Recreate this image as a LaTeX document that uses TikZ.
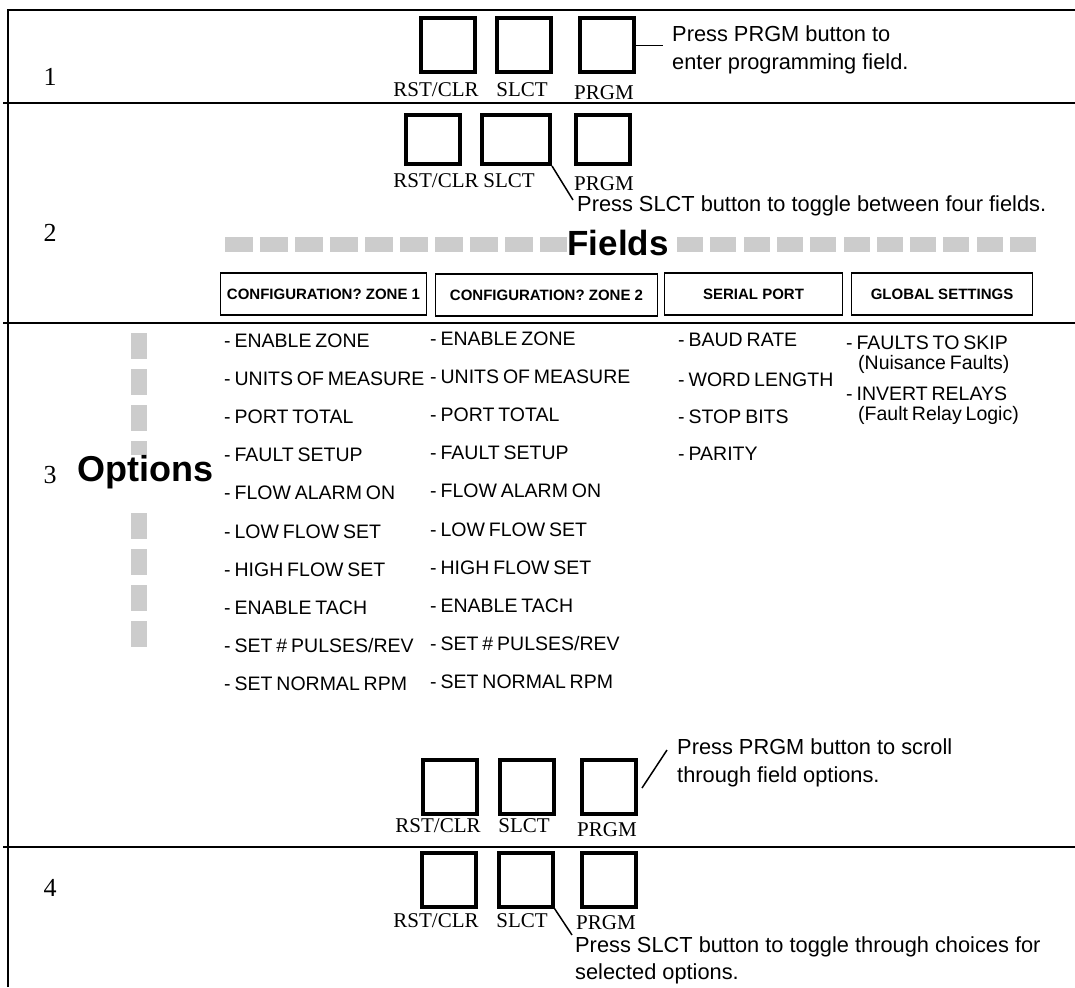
\documentclass[tikz,border=0pt]{standalone}
\usepackage{fontspec}
\setmainfont{Liberation Serif}
\setsansfont{Liberation Sans}
\newfontfamily\optfont{Liberation Sans}[WordSpace=0.72]
\begin{document}
\begin{tikzpicture}[x=1pt,y=-1pt,
  frame/.style={line width=2.2pt},
  btn/.style={draw, line width=4pt, minimum width=54pt, minimum height=54pt, inner sep=0pt},
  blabel/.style={font=\fontsize{21}{21}\selectfont, inner sep=0pt, anchor=base},
  note/.style={font=\sffamily\fontsize{21.8}{21.8}\selectfont, inner sep=0pt, anchor=base west},
  opt/.style={font=\optfont\fontsize{19.5}{19.5}\selectfont, inner sep=0pt, anchor=base west},
  field/.style={draw, line width=1.2pt, minimum height=42pt, inner sep=0pt, font=\sffamily\bfseries\fontsize{15}{15}\selectfont},
  secnum/.style={font=\fontsize{26}{26}\selectfont, inner sep=0pt},
  big/.style={font=\sffamily\bfseries\fontsize{36}{36}\selectfont, inner sep=0pt, fill=white},
  graydash/.style={fill=black!20, draw=none},
  callout/.style={line width=1.5pt}
]
\useasboundingbox (0,0) rectangle (1075,987);
% frame
\coordinate (fTL) at (8,10);
\coordinate (fTR) at (1075,10);
\coordinate (fBL) at (8,987);
\draw[frame] (fBL) -- (fTL) -- (fTR);
\coordinate (d1L) at (3,103); \coordinate (d1R) at (1075,103);
\coordinate (d2L) at (3,323); \coordinate (d2R) at (1075,323);
\coordinate (d3L) at (3,847); \coordinate (d3R) at (1075,847);
\draw[frame] (d1L) -- (d1R);
\draw[frame] (d2L) -- (d2R);
\draw[frame] (d3L) -- (d3R);
% section numbers
\node[secnum] (n1) at (50,77) {1};
\node[secnum] (n2) at (50,233) {2};
\node[secnum] (n3) at (50,475) {3};
\node[secnum] (n4) at (50,888) {4};
% section 1 buttons
\node[btn] (a1) at (447.5,45.5) {};
\node[btn] (a2) at (524,45.5) {};
\node[btn] (a3) at (606.5,45.5) {};
\node[blabel] (la1) at (436,97) {RST/CLR};
\node[blabel] (la2) at (522,97) {SLCT};
\node[blabel] (la3) at (604,100) {PRGM};
\coordinate (ca) at (663,45.5);
\draw[callout] (a3.east) -- (ca);
\node[note] (ta1) at (672,42) {Press PRGM button to};
\node[note] (ta2) at (672,70) {enter programming field.};
% section 2 buttons
\node[btn, minimum height=49pt] (b1) at (432.5,139.5) {};
\node[btn, minimum height=49pt, minimum width=68pt] (b2) at (516,139.5) {};
\node[btn, minimum height=49pt] (b3) at (602.5,139.5) {};
\node[blabel] (lb1) at (436,187) {RST/CLR};
\node[blabel] (lb2) at (509,187) {SLCT};
\node[blabel] (lb3) at (604,190) {PRGM};
\coordinate (cb) at (573,200);
\draw[callout] (b2.south east) -- (cb);
\node[note] (tb1) at (577,211) {Press SLCT button to toggle between four fields.};
% fields bar
\foreach \i in {0,...,9} {\fill[graydash] (225+35*\i,237) rectangle ++(28,15);}
\foreach \i in {0,...,10} {\fill[graydash] (677+33.3*\i,237) rectangle ++(26,15);}
\node[big, font=\sffamily\bfseries\fontsize{35}{35}\selectfont] (fields) at (618,243) {Fields};
\node[field, minimum width=206pt] (f1) at (323.5,294) {CONFIGURATION? ZONE 1};
\node[field, minimum width=222pt] (f2) at (546.5,295) {CONFIGURATION? ZONE 2};
\node[field, minimum width=178pt] (f3) at (753.5,294) {SERIAL PORT};
\node[field, minimum width=181pt] (f4) at (942,294) {GLOBAL SETTINGS};
% options bar
\foreach \i in {0,1,2,3,5,6,7,8} {\fill[graydash] (131,333+36*\i) rectangle ++(16,26);}
\node[big] (options) at (145,472) {Options};
% option lists
\foreach \t [count=\k from 0] in {ENABLE ZONE,UNITS OF MEASURE,PORT TOTAL,FAULT SETUP,FLOW ALARM ON,LOW FLOW SET,HIGH FLOW SET,ENABLE TACH,SET \# PULSES/REV,SET NORMAL RPM}
  {\node[opt] (o1-\k) at (224,347+38.2*\k) {- \t};
   \node[opt] (o2-\k) at (430,345+38.2*\k) {- \t};}
\node[opt] (o3-0) at (678,346) {- BAUD RATE};
\node[opt] (o3-1) at (678,386) {- WORD LENGTH};
\node[opt] (o3-2) at (678,423) {- STOP BITS};
\node[opt] (o3-3) at (678,460) {- PARITY};
\node[opt] (o4-0) at (846,349) {- FAULTS TO SKIP};
\node[opt] (o4-1) at (858,369) {(Nuisance Faults)};
\node[opt] (o4-2) at (846,400) {- INVERT RELAYS};
\node[opt] (o4-3) at (858,420) {(Fault Relay Logic)};
% section 3 buttons
\node[btn] (c1) at (450,786.5) {};
\node[btn] (c2) at (526.5,786.5) {};
\node[btn] (c3) at (609,786.5) {};
\node[blabel] (lc1) at (438,832) {RST/CLR};
\node[blabel] (lc2) at (524,832) {SLCT};
\node[blabel] (lc3) at (607,836) {PRGM};
\coordinate (cc) at (667,750);
\draw[callout] ([xshift=4pt,yshift=-1.5pt]c3.east) -- (cc);
\node[note] (tc1) at (677,754) {Press PRGM button to scroll};
\node[note] (tc2) at (677,782) {through field options.};
% section 4 buttons
\node[btn] (e1) at (448.5,879.5) {};
\node[btn] (e2) at (525.5,879.5) {};
\node[btn] (e3) at (608.5,879.5) {};
\node[blabel] (le1) at (436,927) {RST/CLR};
\node[blabel] (le2) at (522,927) {SLCT};
\node[blabel] (le3) at (606,929) {PRGM};
\coordinate (ce) at (572,935);
\draw[callout] (e2.south east) -- (ce);
\node[note] (te1) at (575,952) {Press SLCT button to toggle through choices for};
\node[note] (te2) at (575,979) {selected options.};
\end{tikzpicture}
\end{document}
